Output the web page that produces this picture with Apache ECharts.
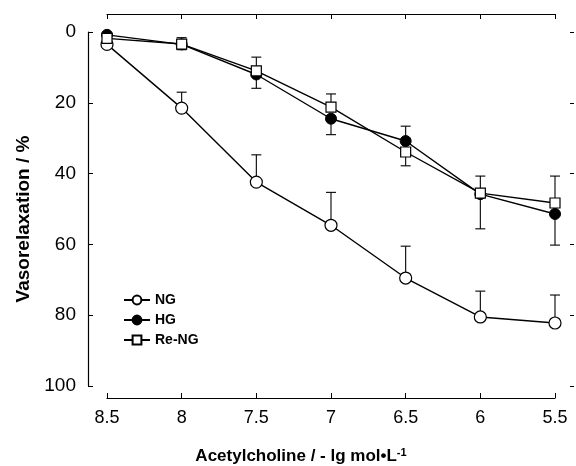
<!DOCTYPE html>
<html>
<head>
<meta charset="utf-8">
<script src="https://cdn.jsdelivr.net/npm/echarts@6/dist/echarts.min.js"></script>
<style>
  html, body { margin: 0; padding: 0; background: #fff; }
  #main { width: 576px; height: 466px; }
</style>
</head>
<body>
<div id="main"></div>
<script>
// -lg[ACh] doses
var doses = [8.5, 8, 7.5, 7, 6.5, 6, 5.5];
// mean vasorelaxation (%)
var ngMean = [3.5, 21.5, 42.4, 54.6, 69.5, 80.5, 82.2];
var hgMean = [0.8, 3.5, 12.0, 24.5, 30.8, 45.8, 51.4];
var reMean = [1.8, 3.4, 11.0, 21.2, 33.9, 45.5, 48.3];
// error bars, signed: negative = whisker drawn toward 0
var ngErr = [0, -4.5, -7.7, -9.3, -9.0, -7.3, -7.9];
var hgErr = [0, 1.5, 3.9, 4.5, -4.2, 9.8, 8.8];
var reErr = [0, -1.8, -3.9, -3.7, 3.9, -4.8, -7.6];

var FONT = 'Liberation Sans, Arial, sans-serif';
var myChart = echarts.init(document.getElementById('main'));

function pairs(ys) {
  return doses.map(function (d, i) { return [d, ys[i]]; });
}
function errData(ys, es) {
  var out = [];
  doses.forEach(function (d, i) {
    if (es[i] !== 0) out.push([d, ys[i], ys[i] + es[i]]);
  });
  return out;
}
// whisker: vertical line + cap
function renderErr(params, api) {
  var p0 = api.coord([api.value(0), api.value(1)]);
  var p1 = api.coord([api.value(0), api.value(2)]);
  var w = 5;
  var st = { stroke: '#000', lineWidth: 1.1 };
  return {
    type: 'group',
    children: [
      { type: 'line', shape: { x1: p0[0], y1: p0[1], x2: p1[0], y2: p1[1] }, style: st },
      { type: 'line', shape: { x1: p1[0] - w, y1: p1[1], x2: p1[0] + w, y2: p1[1] }, style: st }
    ]
  };
}

var lineStyle = { color: '#000', width: 1.4 };

var option = {
  animation: false,
  backgroundColor: '#fff',
  grid: { left: 107, right: 21, top: 32, bottom: 80, outerBoundsMode: 'none' },
  legend: {
    orient: 'vertical',
    left: 118,
    top: 288,
    itemWidth: 26,
    itemHeight: 11,
    itemGap: 6,
    data: ['NG', 'HG', 'Re-NG'],
    textStyle: { color: '#000', fontSize: 14, fontWeight: 'bold', fontFamily: FONT }
  },
  xAxis: [
    {
      type: 'value',
      position: 'bottom',
      min: 5.5, max: 8.5, interval: 0.5,
      inverse: true,
      offset: 12,
      splitLine: { show: false },
      axisLine: { onZero: false, lineStyle: { color: '#000', width: 1.2 } },
      axisTick: { inside: true, length: 5, lineStyle: { color: '#000' } },
      axisLabel: { color: '#000', fontSize: 18, margin: 11, fontFamily: FONT },
      name: 'Acetylcholine / - lg mol\u2022L{sup|-1}',
      nameLocation: 'middle',
      nameGap: 49,
      nameTextStyle: {
        color: '#000', fontSize: 17, fontWeight: 'bold', fontFamily: FONT,
        padding: [0, 60, 0, 0],
        rich: { sup: { fontSize: 11, fontWeight: 'bold', fontFamily: FONT, verticalAlign: 'top', padding: [0, 0, 8, 0] } }
      }
    },
    {
      type: 'value',
      position: 'top',
      min: 5.5, max: 8.5, interval: 0.5,
      inverse: true,
      offset: 18,
      splitLine: { show: false },
      axisLine: { onZero: false, lineStyle: { color: '#000', width: 1.2 } },
      axisTick: { inside: true, length: 5, lineStyle: { color: '#000' } },
      axisLabel: { show: false }
    }
  ],
  yAxis: [
    {
      type: 'value',
      position: 'left',
      min: 0, max: 100, interval: 20,
      inverse: true,
      offset: 19,
      splitLine: { show: false },
      axisLine: { show: true, onZero: false, lineStyle: { color: '#000', width: 1.2 } },
      axisTick: { show: true, inside: true, length: 5, lineStyle: { color: '#000' } },
      axisLabel: { color: '#000', fontSize: 19, margin: 12, fontFamily: FONT },
      name: 'Vasorelaxation / %',
      nameLocation: 'middle',
      nameGap: 55,
      nameTextStyle: { color: '#000', fontSize: 19, fontWeight: 'bold', fontFamily: FONT, padding: [0, 20, 0, 0] }
    },
    {
      type: 'value',
      position: 'right',
      min: 0, max: 100, interval: 20,
      inverse: true,
      offset: 19,
      splitLine: { show: false },
      axisLine: { show: false, onZero: false },
      axisTick: { show: true, inside: true, length: 4, lineStyle: { color: '#000' } },
      axisLabel: { show: false }
    }
  ],
  series: [
    { type: 'custom', name: 'NG err', renderItem: renderErr, data: errData(ngMean, ngErr), z: 1, silent: true },
    { type: 'custom', name: 'HG err', renderItem: renderErr, data: errData(hgMean, hgErr), z: 1, silent: true },
    { type: 'custom', name: 'Re-NG err', renderItem: renderErr, data: errData(reMean, reErr), z: 1, silent: true },
    {
      name: 'NG', type: 'line', data: pairs(ngMean),
      symbol: 'circle', symbolSize: 12,
      lineStyle: lineStyle,
      itemStyle: { color: '#fff', borderColor: '#000', borderWidth: 1.2 },
      z: 3
    },
    {
      name: 'HG', type: 'line', data: pairs(hgMean),
      symbol: 'circle', symbolSize: 11,
      lineStyle: lineStyle,
      itemStyle: { color: '#000', borderColor: '#000', borderWidth: 1 },
      z: 4
    },
    {
      name: 'Re-NG', type: 'line', data: pairs(reMean),
      symbol: 'rect', symbolSize: 10,
      lineStyle: lineStyle,
      itemStyle: { color: '#fff', borderColor: '#000', borderWidth: 1.2 },
      z: 5
    }
  ]
};
myChart.setOption(option);
</script>
</body>
</html>
